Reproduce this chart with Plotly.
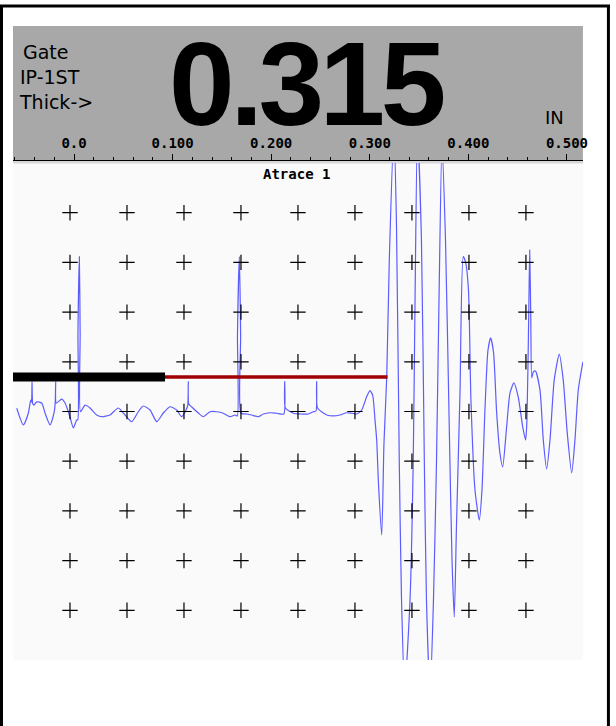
import plotly.graph_objects as go

W, H = 616, 726
SX = 0.992  # horizontal scale applied by the page renderer

# A-scan echo samples: (depth in inches, amplitude in % of full screen height)
echo_samples = [
    (-0.0581, 1.3), (-0.0514, -5.4), (-0.0463, -0.6), (-0.0439, 4.6), (-0.0431, 3.8),
    (-0.0426, 12.0), (-0.0418, 3.0), (-0.0406, 2.6), (-0.0378, 3.9), (-0.0328, 3.4),
    (-0.0294, -0.6), (-0.0243, -5.4), (-0.0203, -0.6), (-0.0191, 3.4), (-0.0186, 12.0),
    (-0.0180, 3.4), (-0.0125, 5.0), (-0.0091, 3.4), (-0.0041, -2.2), (-0.0007, -6.6),
    (0.0027, -3.4), (0.0038, -3.4), (0.0040, 31.2), (0.0054, 62.3), (0.0062, 31.2),
    (0.0066, -0.1), (0.0112, 2.6), (0.0162, 1.4), (0.0230, -1.4), (0.0281, -2.1),
    (0.0365, -1.4), (0.0449, 1.4), (0.0500, -0.6), (0.0585, -4.1), (0.0652, -0.1),
    (0.0703, 2.2), (0.0771, 0.6), (0.0839, -4.1), (0.0906, -0.6), (0.0974, 1.9),
    (0.1042, 0.6), (0.1092, -2.1), (0.1136, 0.6), (0.1154, 2.6), (0.1159, 12.0),
    (0.1164, 3.0), (0.1194, 1.8), (0.1261, -0.6), (0.1311, -2.1), (0.1379, -0.1),
    (0.1447, -0.1), (0.1514, -0.7), (0.1582, -2.1), (0.1633, -1.4), (0.1656, -1.8),
    (0.1658, 30.4), (0.1677, 62.3), (0.1690, 30.4), (0.1694, -0.7), (0.1752, -1.0),
    (0.1802, -1.4), (0.1869, -2.1), (0.1920, -1.0), (0.1988, -0.5), (0.2056, -0.7),
    (0.2128, -1.0), (0.2137, 12.0), (0.2144, 1.4), (0.2224, -0.7), (0.2292, -1.0),
    (0.2376, -1.0), (0.2427, -0.1), (0.2454, 0.2), (0.2461, 12.0), (0.2470, 1.4),
    (0.2563, -1.4), (0.2630, -1.8), (0.2698, -1.4), (0.2766, -0.5), (0.2817, -0.7),
    (0.2867, -1.0), (0.2918, 0.6), (0.2969, 6.0), (0.3002, 8.4), (0.3029, 6.6),
    (0.3053, -3.4), (0.3070, -11.5), (0.3088, -28.8), (0.3121, -49.7), (0.3144, -12.7),
    (0.3172, 14.0), (0.3198, 61.0), (0.3245, 113.0), (0.3271, 74.6), (0.3299, -19.5),
    (0.3322, -75.9), (0.3354, -112.0), (0.3408, -75.9), (0.3441, -19.5), (0.3459, 44.9),
    (0.3484, 113.3), (0.3524, 69.0), (0.3553, -19.5), (0.3575, -75.9), (0.3611, -114.1),
    (0.3646, -75.9), (0.3677, -19.5), (0.3702, 44.9), (0.3732, 107.2), (0.3768, 69.0),
    (0.3806, -6.1), (0.3834, -59.8), (0.3857, -82.7), (0.3879, -46.5), (0.3915, 7.4),
    (0.3948, 62.3), (0.3971, 60.2), (0.4001, 48.9), (0.4026, 4.6), (0.4067, -31.6),
    (0.4111, -43.7), (0.4138, -31.6), (0.4168, 0.6), (0.4199, 24.7), (0.4226, 29.6),
    (0.4255, 23.9), (0.4287, -0.6), (0.4320, -16.7), (0.4348, -22.3), (0.4388, -6.2),
    (0.4422, 7.4), (0.4462, 11.5), (0.4506, 5.8), (0.4551, -6.2), (0.4581, -11.5),
    (0.4594, -3.4), (0.4612, 38.1), (0.4622, 65.0), (0.4633, 37.6), (0.4643, 13.5),
    (0.4659, 15.9), (0.4680, 16.3), (0.4726, 8.7), (0.4760, -11.5), (0.4794, -23.1),
    (0.4828, -11.5), (0.4871, 12.7), (0.4922, 23.1), (0.4962, 12.7), (0.5003, -8.7),
    (0.5048, -24.7), (0.5081, -11.5), (0.5115, 8.7), (0.5162, 20.0),
]
echo_depth = [p[0] for p in echo_samples]
echo_amp = [p[1] for p in echo_samples]

# Gates (inches / % FSH)
ip_gate = {"start": -0.062, "end": 0.0923, "level": 13.9}
gate_1st = {"start": 0.0923, "end": 0.318, "level": 13.9}

# Ruler ticks
ruler_vals = [0.0, 0.1, 0.2, 0.3, 0.4, 0.5]
ruler_text = ["0.0", "0.100", "0.200", "0.300", "0.400", "0.500"]
depth_range = [-0.0619, 0.5162]
amp_range = [-100, 100]

# Graticule: 10 x 10 divisions, crosses on interior intersections
divisions = list(range(1, 10))

reading = "0.315"
units = "IN"
gate_lines = ["Gate", "IP-1ST", "Thick->"]
trace_name = "Atrace 1"


def fx(px):
    return px / (W * SX)


def fy(py):
    return 1 - py / H


plot_left, plot_right, plot_top, plot_bottom = 13, 583, 163, 660
dom_x = [fx(plot_left), fx(plot_right)]
dom_y = [fy(plot_bottom), fy(plot_top)]

fig = go.Figure()

gx = [c for c in divisions for _ in divisions]
gy = [r for _ in divisions for r in divisions]
fig.add_trace(go.Scatter(
    x=gx, y=gy, xaxis="x2", yaxis="y2", mode="markers",
    marker=dict(symbol="cross-thin", size=11, line=dict(width=1.2, color="black")),
    hoverinfo="skip", showlegend=False,
))

fig.add_trace(go.Scatter(
    x=echo_depth, y=echo_amp, mode="lines",
    line=dict(color="#5c5cff", width=1.2, shape="spline", smoothing=0.6),
    hoverinfo="skip", showlegend=False,
))

fig.add_trace(go.Scatter(
    x=[gate_1st["start"], gate_1st["end"]], y=[gate_1st["level"]] * 2, mode="lines",
    line=dict(color="#a00000", width=3.5), hoverinfo="skip", showlegend=False,
))
fig.add_trace(go.Scatter(
    x=[ip_gate["start"], ip_gate["end"]], y=[ip_gate["level"]] * 2, mode="lines",
    line=dict(color="black", width=9), hoverinfo="skip", showlegend=False,
))

shapes = [
    # instrument readout panel
    dict(type="rect", xref="paper", yref="paper", x0=fx(13), x1=fx(583), y0=fy(160), y1=fy(26),
         fillcolor="#a8a8a8", line=dict(width=0), layer="below"),
    dict(type="rect", xref="paper", yref="paper", x0=fx(13), x1=fx(583), y0=fy(163.5), y1=fy(160),
         fillcolor="#d6d6d6", line=dict(width=0), layer="below"),
    # frame
    dict(type="line", xref="paper", yref="paper", x0=0, x1=fx(610), y0=fy(6), y1=fy(6),
         line=dict(color="black", width=3)),
    dict(type="line", xref="paper", yref="paper", x0=fx(1.5), x1=fx(1.5), y0=fy(5), y1=0,
         line=dict(color="black", width=3)),
    dict(type="line", xref="paper", yref="paper", x0=fx(608.5), x1=fx(608.5), y0=fy(5), y1=0,
         line=dict(color="black", width=3)),
]

annotations = [
    dict(text=f'<span style="letter-spacing:-4.5px">{reading}</span>',
         x=fx(307), y=fy(84), xref="paper", yref="paper", showarrow=False,
         xanchor="center", yanchor="middle", height=100, valign="middle",
         font=dict(family="Liberation Sans", size=118, color="black", weight="bold")),
    dict(text=units, x=fx(555), y=fy(117), xref="paper", yref="paper", showarrow=False,
         xanchor="center", yanchor="middle",
         font=dict(family="DejaVu Sans", size=18, color="black")),
    dict(text=trace_name, x=fx(297), y=fy(174), xref="paper", yref="paper", showarrow=False,
         xanchor="center", yanchor="middle",
         font=dict(family="DejaVu Sans Mono", size=14, color="black", weight="bold")),
]
for i, (txt, lx) in enumerate(zip(gate_lines, [21, 18, 17])):
    annotations.append(dict(
        text=txt, x=fx(lx), y=fy(52 + 25 * i), xref="paper", yref="paper", showarrow=False,
        xanchor="left", yanchor="middle",
        font=dict(family="DejaVu Sans", size=19, color="black"),
    ))

fig.update_layout(
    width=W, height=H, margin=dict(l=0, r=0, t=0, b=0),
    paper_bgcolor="white", plot_bgcolor="#fafafa",
    showlegend=False, hovermode=False,
    shapes=shapes, annotations=annotations,
    xaxis=dict(
        domain=dom_x, range=depth_range, anchor="free", position=fy(160), side="top",
        showgrid=False, zeroline=False, showline=True, linecolor="black", linewidth=1,
        tickvals=ruler_vals, ticktext=ruler_text, ticks="outside", ticklen=6,
        tickcolor="black", tickwidth=1,
        tickfont=dict(family="DejaVu Sans Mono", size=14, color="black", weight="bold"),
        minor=dict(dtick=0.02, tick0=0, ticks="outside", ticklen=3, tickcolor="black", showgrid=False),
        fixedrange=True,
    ),
    yaxis=dict(domain=dom_y, range=amp_range, visible=False, fixedrange=True),
    xaxis2=dict(domain=dom_x, range=[0, 10], overlaying="x", anchor="y2", visible=False),
    yaxis2=dict(domain=dom_y, range=[0, 10], overlaying="y", anchor="x2", visible=False),
)

fig.write_html("out.html", config={"displayModeBar": False})
